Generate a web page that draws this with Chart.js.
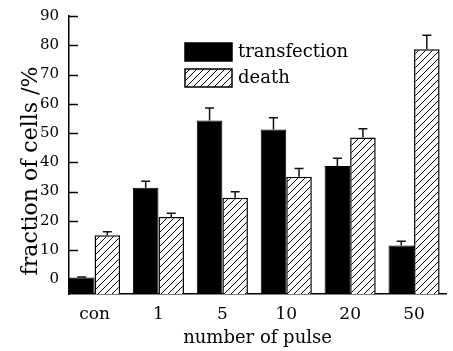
<!DOCTYPE html>
<html>
<head>
<meta charset="utf-8">
<script src="https://cdn.jsdelivr.net/npm/chart.js@4.4.1/dist/chart.umd.min.js"></script>
<style>
  html, body { margin: 0; padding: 0; background: #fff; }
  #wrap { width: 453px; height: 351px; }
</style>
</head>
<body>
<div id="wrap"><canvas id="c" width="453" height="351"></canvas></div>
<script>
// Number of pulses applied, and the measured fractions (%) with error bars
const categories = ['con', '1', '5', '10', '20', '50'];
const transfection = [0.6, 31.3, 54.3, 51.2, 38.7, 11.6];
const transfectionErr = [0.2, 2.2, 4.3, 4.0, 2.7, 1.4];
const death = [15.1, 21.3, 27.9, 35.1, 48.5, 78.6];
const deathErr = [1.2, 1.3, 2.0, 2.8, 3.0, 4.8];
const yTicks = [0, 10, 20, 30, 40, 50, 60, 70, 80, 90];
const yTitle = 'fraction of cells /%';

const SERIF = '"DejaVu Serif", "Liberation Serif", serif';
const Y_MIN = -5;

// Diagonal "/" hatch fill
function hatchPattern() {
  const s = 7;
  const p = document.createElement('canvas');
  p.width = s; p.height = s;
  const g = p.getContext('2d');
  g.fillStyle = '#fff';
  g.fillRect(0, 0, s, s);
  g.strokeStyle = '#000';
  g.lineWidth = 1;
  g.beginPath();
  g.moveTo(0, s); g.lineTo(s, 0);
  g.moveTo(-1, 1); g.lineTo(1, -1);
  g.moveTo(s - 1, s + 1); g.lineTo(s + 1, s - 1);
  g.stroke();
  return g.createPattern(p, 'repeat');
}
const hatch = hatchPattern();

const errors = [transfectionErr, deathErr];

// Upward error bars with a short cap
const errorBars = {
  id: 'errorBars',
  afterDatasetsDraw(chart) {
    const ctx = chart.ctx;
    const y = chart.scales.y;
    ctx.save();
    ctx.strokeStyle = '#111';
    ctx.lineWidth = 1.5;
    chart.data.datasets.forEach((ds, i) => {
      const meta = chart.getDatasetMeta(i);
      meta.data.forEach((bar, j) => {
        const top = y.getPixelForValue(ds.data[j].y + errors[i][j]);
        ctx.beginPath();
        ctx.moveTo(bar.x, bar.y);
        ctx.lineTo(bar.x, top);
        ctx.moveTo(bar.x - 4.5, top);
        ctx.lineTo(bar.x + 4.5, top);
        ctx.stroke();
      });
    });
    ctx.restore();
  }
};

// Inward tick marks on the value axis, plus its rotated title
const yAxisDecor = {
  id: 'yAxisDecor',
  afterDraw(chart) {
    const ctx = chart.ctx;
    const y = chart.scales.y;
    const x0 = chart.chartArea.left;
    ctx.save();
    ctx.strokeStyle = '#000';
    ctx.lineWidth = 1.5;
    y.ticks.forEach(t => {
      const py = Math.round(y.getPixelForValue(t.value)) + 0.5;
      ctx.beginPath();
      ctx.moveTo(x0, py);
      ctx.lineTo(x0 + 9, py);
      ctx.stroke();
    });
    ctx.translate(37, 171);
    ctx.rotate(-Math.PI / 2);
    ctx.font = '22px ' + SERIF;
    ctx.fillStyle = '#000';
    ctx.textAlign = 'center';
    ctx.textBaseline = 'alphabetic';
    ctx.fillText(yTitle, 0, 0);
    ctx.restore();
  }
};

// Legend boxes inside the plot area
const boxLegend = {
  id: 'boxLegend',
  afterDraw(chart) {
    const ctx = chart.ctx;
    ctx.save();
    ctx.font = '18px ' + SERIF;
    ctx.textBaseline = 'middle';
    chart.data.datasets.forEach((ds, i) => {
      const bx = 185, by = 43 + i * 26, bw = 47, bh = 18;
      ctx.fillStyle = ds.backgroundColor;
      ctx.fillRect(bx, by, bw, bh);
      ctx.strokeStyle = '#000';
      ctx.lineWidth = 1.5;
      ctx.strokeRect(bx, by, bw, bh);
      ctx.fillStyle = '#000';
      ctx.fillText(ds.label, bx + 53, by + bh / 2);
    });
    ctx.restore();
  }
};

new Chart(document.getElementById('c'), {
  type: 'bar',
  data: {
    datasets: [
      {
        label: 'transfection',
        data: transfection.map((v, i) => ({ x: i, y: v })),
        backgroundColor: '#000',
        borderColor: '#000',
        borderWidth: 1,
        base: Y_MIN
      },
      {
        label: 'death',
        data: death.map((v, i) => ({ x: i, y: v })),
        backgroundColor: hatch,
        borderColor: '#000',
        borderWidth: 1.5,
        base: Y_MIN
      }
    ]
  },
  plugins: [errorBars, yAxisDecor, boxLegend],
  options: {
    responsive: false,
    animation: false,
    events: [],
    layout: { padding: { left: 0, right: 7, top: 16, bottom: 0 } },
    datasets: { bar: { categoryPercentage: 0.8, barPercentage: 1.0, grouped: true } },
    plugins: { legend: { display: false }, tooltip: { enabled: false } },
    scales: {
      x: {
        type: 'linear',
        min: -0.4,
        max: 5.5,
        offset: false,
        afterBuildTicks(scale) { scale.ticks = categories.map((c, i) => ({ value: i })); },
        afterFit(scale) { scale.height = 57; },
        grid: { display: false },
        border: { display: true, color: '#000', width: 1.5 },
        ticks: {
          autoSkip: false,
          maxRotation: 0,
          padding: 2,
          color: '#000',
          font: { family: SERIF, size: 17 },
          callback: v => categories[v]
        },
        title: {
          display: true,
          text: 'number of pulse',
          color: '#000',
          font: { family: SERIF, size: 18 },
          padding: { top: 0, bottom: 2 }
        }
      },
      y: {
        min: Y_MIN,
        max: 90,
        afterBuildTicks(scale) { scale.ticks = yTicks.map(v => ({ value: v })); },
        afterFit(scale) { scale.width = 69; },
        grid: { display: false },
        border: { display: true, color: '#000', width: 1.5 },
        ticks: {
          padding: 2,
          color: '#000',
          font: { family: SERIF, size: 15 }
        }
      }
    }
  }
});
</script>
</body>
</html>
